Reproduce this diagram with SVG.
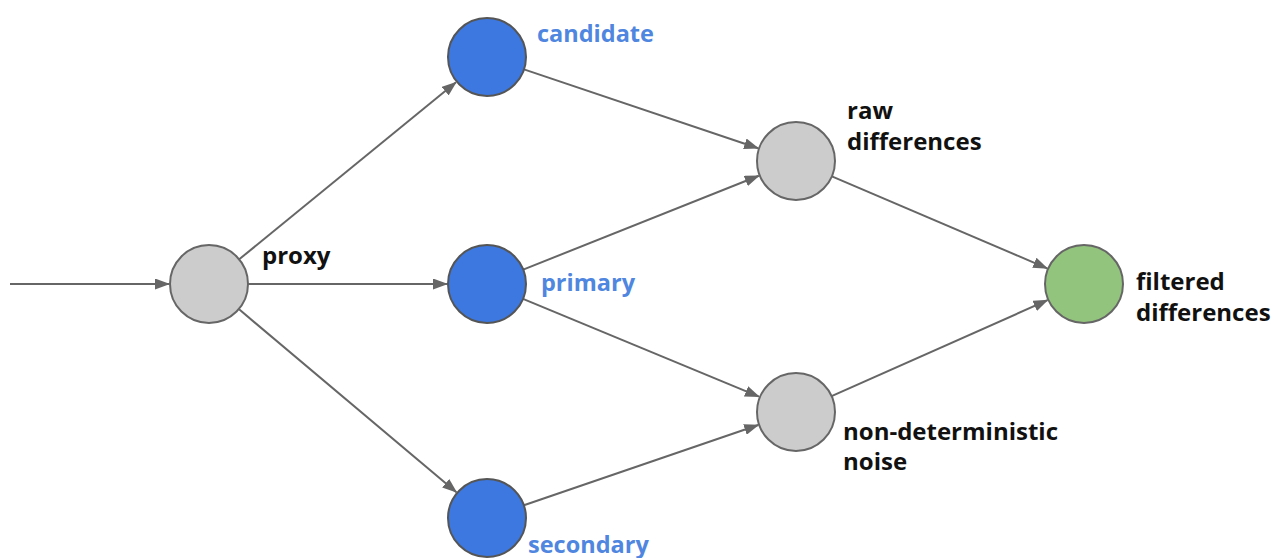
<svg xmlns="http://www.w3.org/2000/svg" width="1274" height="558" viewBox="0 0 1274 558">
<style>
.edge{stroke:#666;stroke-width:2;fill:none;marker-end:url(#ah)}
.gray{fill:#cccccc;stroke:#666;stroke-width:2}
.blue{fill:#3c78e0;stroke:#555;stroke-width:2}
.green{fill:#93c47d;stroke:#666;stroke-width:2}
text{font-family:"Open Sans","Noto Sans","DejaVu Sans",sans-serif;font-weight:bold;font-size:24px;fill:#111}
.bl{fill:#4f86e0;font-size:23.5px}
</style>
<defs>
<marker id="ah" markerUnits="userSpaceOnUse" markerWidth="15" markerHeight="11" refX="14" refY="5.5" orient="auto" viewBox="0 0 15 11">
<path d="M0,0 L15,5.5 L0,11 z" fill="#666"/>
</marker>
</defs>
<rect width="1274" height="558" fill="#fff"/>
<g id="connectors">
<line class="edge" x1="10" y1="284" x2="169" y2="284"/>
<line class="edge" x1="239.2" y1="259.3" x2="456" y2="82.3"/>
<line class="edge" x1="248" y1="284" x2="447" y2="284"/>
<line class="edge" x1="238.8" y1="309.1" x2="456.4" y2="492.2"/>
<line class="edge" x1="524" y1="69.4" x2="758.1" y2="148.2"/>
<line class="edge" x1="523.2" y1="269.6" x2="758.8" y2="175.8"/>
<line class="edge" x1="523" y1="298.9" x2="759" y2="396.7"/>
<line class="edge" x1="523.9" y1="505.3" x2="758.2" y2="425"/>
<line class="edge" x1="831.9" y1="176.3" x2="1047.2" y2="268.3"/>
<line class="edge" x1="831.6" y1="396.2" x2="1047.5" y2="300.2"/>
</g>
<g id="proxy"><circle class="gray" cx="209" cy="284" r="39"/><text x="262" y="264">proxy</text></g>
<g id="candidate"><circle class="blue" cx="487" cy="57" r="39"/><text class="bl" x="537" y="42">candidate</text></g>
<g id="primary"><circle class="blue" cx="487" cy="284" r="39"/><text class="bl" x="541" y="291">primary</text></g>
<g id="secondary"><circle class="blue" cx="487" cy="518" r="39"/><text class="bl" x="528" y="553">secondary</text></g>
<g id="raw"><circle class="gray" cx="796" cy="161" r="39"/><text x="847" y="119">raw</text><text x="847" y="150">differences</text></g>
<g id="noise"><circle class="gray" cx="796" cy="412" r="39"/><text x="843" y="440">non-deterministic</text><text x="843" y="470">noise</text></g>
<g id="filtered"><circle class="green" cx="1084" cy="284" r="39"/><text x="1136" y="290">filtered</text><text x="1136" y="321">differences</text></g>
</svg>
